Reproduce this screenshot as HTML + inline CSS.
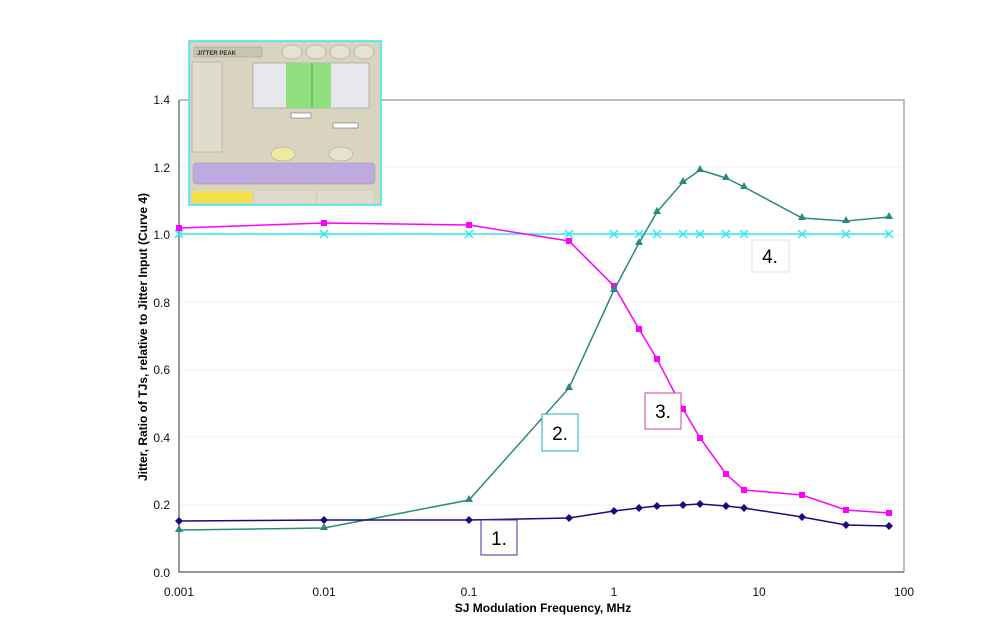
<!DOCTYPE html>
<html><head><style>body{margin:0;background:#fff}svg{display:block}</style></head><body>
<svg width="985" height="622" xmlns="http://www.w3.org/2000/svg" font-family="Liberation Sans, sans-serif">
<rect width="985" height="622" fill="#fff"/>
<g stroke="#f2f2f2" stroke-width="1">
<line x1="179" y1="505" x2="904" y2="505"/><line x1="179" y1="437" x2="904" y2="437"/><line x1="179" y1="370" x2="904" y2="370"/><line x1="179" y1="302" x2="904" y2="302"/><line x1="179" y1="235" x2="904" y2="235"/><line x1="179" y1="167" x2="904" y2="167"/>
</g>
<path d="M179,100 H904 V572" fill="none" stroke="#aaa" stroke-width="1.5"/>
<path d="M179,100 V572 H904" fill="none" stroke="#777" stroke-width="1.5"/>
<g font-size="12" fill="#111" text-anchor="end">
<text x="170" y="577">0.0</text><text x="170" y="509">0.2</text><text x="170" y="442">0.4</text><text x="170" y="374">0.6</text><text x="170" y="307">0.8</text><text x="170" y="239">1.0</text><text x="170" y="172">1.2</text><text x="170" y="104">1.4</text>
</g>
<g font-size="12" fill="#111" text-anchor="middle">
<text x="179" y="596">0.001</text><text x="324" y="596">0.01</text><text x="469" y="596">0.1</text><text x="614" y="596">1</text><text x="759" y="596">10</text><text x="904" y="596">100</text>
</g>
<text x="543" y="612" font-size="12" font-weight="bold" text-anchor="middle">SJ Modulation Frequency, MHz</text>
<text transform="translate(147,337) rotate(-90)" font-size="12" font-weight="bold" text-anchor="middle">Jitter, Ratio of TJs, relative to Jitter Input (Curve 4)</text>
<polyline points="179,234 324,234 469,234 569,234 614,234 639,234 657,234 683,234 700,234 726,234 744,234 802,234 846,234 889,234" fill="none" stroke="#33e8f0" stroke-width="1.5"/>
<g stroke="#33e8f0" stroke-width="1.5">
<path d="M175,230l8,8M183,230l-8,8M320,230l8,8M328,230l-8,8M465,230l8,8M473,230l-8,8M565,230l8,8M573,230l-8,8M610,230l8,8M618,230l-8,8M635,230l8,8M643,230l-8,8M653,230l8,8M661,230l-8,8M679,230l8,8M687,230l-8,8M696,230l8,8M704,230l-8,8M722,230l8,8M730,230l-8,8M740,230l8,8M748,230l-8,8M798,230l8,8M806,230l-8,8M842,230l8,8M850,230l-8,8M885,230l8,8M893,230l-8,8"/>
</g>
<polyline points="179,228 324,223 469,225 569,241 614,286 639,329 657,359 683,409 700,438 726,474 744,490 802,495 846,510 889,513" fill="none" stroke="#ff00ff" stroke-width="1.5"/>
<g fill="#ff00ff">
<rect x="176" y="225" width="6" height="6"/><rect x="321" y="220" width="6" height="6"/><rect x="466" y="222" width="6" height="6"/><rect x="566" y="238" width="6" height="6"/><rect x="611" y="283" width="6" height="6"/><rect x="636" y="326" width="6" height="6"/><rect x="654" y="356" width="6" height="6"/><rect x="680" y="406" width="6" height="6"/><rect x="697" y="435" width="6" height="6"/><rect x="723" y="471" width="6" height="6"/><rect x="741" y="487" width="6" height="6"/><rect x="799" y="492" width="6" height="6"/><rect x="843" y="507" width="6" height="6"/><rect x="886" y="510" width="6" height="6"/>
</g>
<polyline points="179,530 324,528 469,500 569,388 614,290 639,243 657,212 683,182 700,170 726,178 744,187 802,218 846,221 889,217" fill="none" stroke="#2a8a80" stroke-width="1.5"/>
<g fill="#2a8a80">
<path d="M179,525l4,7h-8zM324,523l4,7h-8zM469,495l4,7h-8zM569,383l4,7h-8zM614,285l4,7h-8zM639,238l4,7h-8zM657,207l4,7h-8zM683,177l4,7h-8zM700,165l4,7h-8zM726,173l4,7h-8zM744,182l4,7h-8zM802,213l4,7h-8zM846,216l4,7h-8zM889,212l4,7h-8z"/>
</g>
<polyline points="179,521 324,520 469,520 569,518 614,511 639,508 657,506 683,505 700,504 726,506 744,508 802,517 846,525 889,526" fill="none" stroke="#1a0a80" stroke-width="1.5"/>
<g fill="#1a0a80">
<path d="M179,517l4,4-4,4-4-4zM324,516l4,4-4,4-4-4zM469,516l4,4-4,4-4-4zM569,514l4,4-4,4-4-4zM614,507l4,4-4,4-4-4zM639,504l4,4-4,4-4-4zM657,502l4,4-4,4-4-4zM683,501l4,4-4,4-4-4zM700,500l4,4-4,4-4-4zM726,502l4,4-4,4-4-4zM744,504l4,4-4,4-4-4zM802,513l4,4-4,4-4-4zM846,521l4,4-4,4-4-4zM889,522l4,4-4,4-4-4z"/>
</g>
<g font-size="19" text-anchor="middle" fill="#000">
<rect x="481" y="520" width="36" height="35" fill="#fff" stroke="#3333aa"/><text x="499" y="545">1.</text>
<rect x="542" y="414" width="36" height="37" fill="#fff" stroke="#22aaaa"/><text x="560" y="440">2.</text>
<rect x="645" y="393" width="36" height="36" fill="#fff" stroke="#cc4499"/><text x="663" y="418">3.</text>
<rect x="752" y="240" width="37" height="32" fill="#fff" stroke="#cce8f4"/><text x="770" y="263">4.</text>
</g>
<rect x="189" y="41" width="192" height="164" fill="#d8d4c0" stroke="#33e8f0" stroke-width="1.5"/>
<rect x="194" y="47" width="68" height="10" fill="#c8c4b0" stroke="#999" stroke-width="0.5"/>
<text x="197" y="55" font-size="6" font-weight="bold" fill="#333">JITTER PEAK</text>
<g fill="#e6e2d0" stroke="#999" stroke-width="0.5"><ellipse cx="292" cy="52" rx="10" ry="7"/><ellipse cx="316" cy="52" rx="10" ry="7"/><ellipse cx="340" cy="52" rx="10" ry="7"/><ellipse cx="364" cy="52" rx="10" ry="7"/></g>
<rect x="192" y="62" width="30" height="90" fill="#e0dccc" stroke="#999" stroke-width="0.5"/>
<rect x="253" y="63" width="116" height="45" fill="#e8e8ec" stroke="#888" stroke-width="0.5"/>
<rect x="286" y="63" width="45" height="45" fill="#90e080"/>
<line x1="312" y1="63" x2="312" y2="108" stroke="#555" stroke-width="0.5"/>
<rect x="291" y="113" width="20" height="5" fill="#fff" stroke="#555" stroke-width="0.5"/>
<rect x="333" y="123" width="25" height="5" fill="#fff" stroke="#555" stroke-width="0.5"/>
<ellipse cx="283" cy="154" rx="12" ry="7" fill="#eeeaa0" stroke="#999" stroke-width="0.5"/>
<ellipse cx="341" cy="154" rx="12" ry="7" fill="#e6e2d0" stroke="#999" stroke-width="0.5"/>
<rect x="193" y="163" width="182" height="21" rx="3" fill="#c0a8e0" stroke="#998" stroke-width="0.5"/>
<rect x="192" y="191" width="60" height="12" fill="#f5e04a"/>
<rect x="255" y="191" width="60" height="12" fill="#e0dccc"/>
<rect x="318" y="191" width="55" height="12" fill="#e0dccc"/>
</svg>
</body></html>
